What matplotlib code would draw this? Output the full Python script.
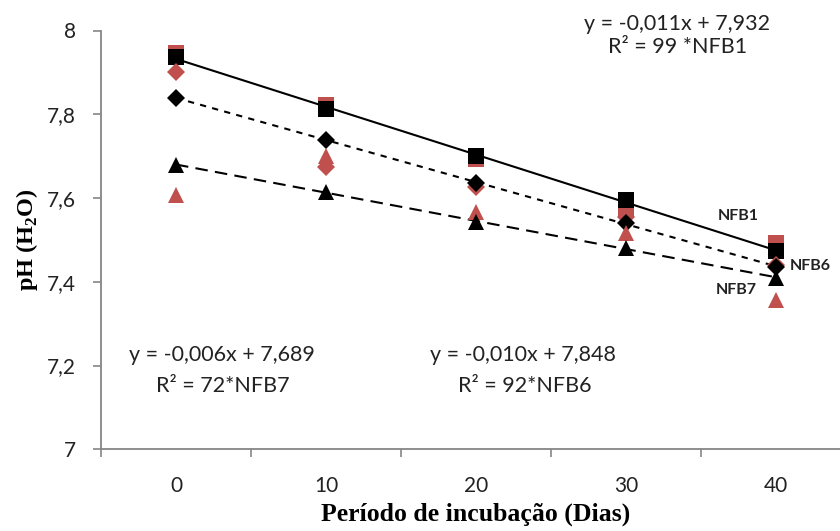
import numpy as np
from matplotlib import pyplot as plt
from matplotlib.ticker import FixedLocator

# dados
dias = [0, 10, 20, 30, 40]
nfb1_preto = [7.937, 7.812, 7.700, 7.595, 7.474]
nfb1_verm = [7.946, 7.822, 7.693, 7.575, 7.493]
nfb6_preto = [7.839, 7.739, 7.636, 7.540, 7.436]
nfb6_verm = [7.900, 7.675, 7.627, 7.555, 7.440]
nfb7_preto = [7.679, 7.615, 7.543, 7.480, 7.410]
nfb7_verm = [7.607, 7.700, 7.567, 7.517, 7.357]

vermelho = '#C0504D'
fonte = ['Lato', 'DejaVu Sans']

plt.rcParams['mathtext.fontset'] = 'custom'
plt.rcParams['mathtext.rm'] = 'Liberation Serif:bold'
plt.rcParams['mathtext.bf'] = 'Liberation Serif:bold'

fig = plt.figure(figsize=(8.4, 5.31), dpi=100)
ax = fig.add_axes([101 / 840, 81.7 / 531, 750 / 840, 418.8 / 531])

# linhas de tendência (ajuste linear da série preta)
xr = np.array([dias[0], dias[-1]])
estilos = ['-', (0, (3, 3)), (0, (6, 3.5))]
for serie, ls in zip([nfb1_preto, nfb6_preto, nfb7_preto], estilos):
    a, b = np.polyfit(dias, serie, 1)
    ax.plot(xr, a * xr + b, color='black', lw=1.5, ls=ls, zorder=2)

ax.plot(dias, nfb1_verm, 's', color=vermelho, ms=12, mew=0, zorder=3)
ax.plot(dias, nfb1_preto, 's', color='black', ms=12, mew=0, zorder=4)
ax.plot(dias, nfb6_verm, 'D', color=vermelho, ms=9, mew=0, zorder=5)
ax.plot(dias, nfb6_preto, 'D', color='black', ms=9, mew=0, zorder=6)
ax.plot(dias, nfb7_verm, '^', color=vermelho, ms=11, mew=0, zorder=7)
ax.plot(dias, nfb7_preto, '^', color='black', ms=11, mew=0, zorder=8)

ax.set_xlim(-5, 45)
ax.set_ylim(7, 8)
ax.set_yticks([7, 7.2, 7.4, 7.6, 7.8, 8])
ax.set_yticklabels(['7', '7,2', '7,4', '7,6', '7,8', '8'], family=fonte, fontsize=15, color='#222222')
ax.set_xticks(dias)
ax.set_xticklabels([str(d) for d in dias], family=fonte, fontsize=15, color='#222222')
ax.xaxis.set_minor_locator(FixedLocator([-5, 5, 15, 25, 35]))
ax.tick_params(axis='x', which='major', length=0, pad=19)
ax.tick_params(axis='x', which='minor', length=6, width=1.2, color='#868686', direction='out')
ax.tick_params(axis='y', length=6, width=1.2, color='#868686', direction='out', pad=12)

for s in ['top', 'right']:
    ax.spines[s].set_visible(False)
for s in ['left', 'bottom']:
    ax.spines[s].set_color('#868686')
    ax.spines[s].set_linewidth(1.3)

ax.set_ylabel('pH (H$_2$O)', family='Liberation Serif', fontweight='bold', fontsize=17.5)
ax.yaxis.set_label_coords(-0.082, 0.5)
ax.set_xlabel('Período de incubação (Dias)', family='Liberation Serif', fontweight='bold', fontsize=18.5)
ax.xaxis.set_label_coords(0.5, -0.128)

kw = dict(family=fonte, fontsize=15.5, color='#222222', ha='center', va='center')
fig.text(677 / 840, 1 - 24 / 531, 'y = -0,011x + 7,932', **kw)
fig.text(678 / 840, 1 - 47 / 531, 'R² = 99 *NFB1', **kw)
fig.text(222 / 840, 1 - 355 / 531, 'y = -0,006x + 7,689', **kw)
fig.text(223 / 840, 1 - 386 / 531, 'R² = 72*NFB7', **kw)
fig.text(523 / 840, 1 - 355 / 531, 'y = -0,010x + 7,848', **kw)
fig.text(525 / 840, 1 - 386 / 531, 'R² = 92*NFB6', **kw)

kw2 = dict(family=fonte, fontsize=11.5, fontweight='bold', color='#222222', ha='center', va='center')
fig.text(738 / 840, 1 - 216 / 531, 'NFB1', **kw2)
fig.text(810 / 840, 1 - 266 / 531, 'NFB6', **kw2)
fig.text(736 / 840, 1 - 290 / 531, 'NFB7', **kw2)

plt.savefig('out.png', dpi=100)
plt.close('all')
